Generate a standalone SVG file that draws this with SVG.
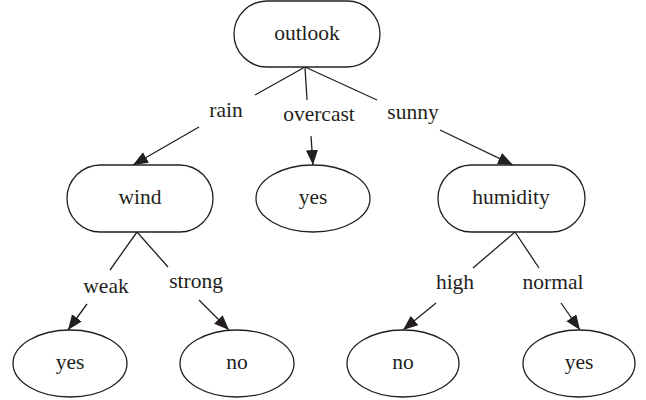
<svg xmlns="http://www.w3.org/2000/svg" width="646" height="400" viewBox="0 0 646 400">
<style>
.n{fill:#fff;stroke:#231f20;stroke-width:1.3}
.t{font-family:"Liberation Serif",serif;font-size:21.5px;fill:#231f20;text-anchor:middle}
.e{stroke:#231f20;stroke-width:1.3;fill:none}
.a{marker-end:url(#ah)}
</style>
<defs>
<marker id="ah" markerUnits="userSpaceOnUse" markerWidth="17" markerHeight="13" refX="15" refY="6" orient="auto">
<path d="M0,0 L15,6 L0,12 z" fill="#231f20"/>
</marker>
</defs>
<rect width="646" height="400" fill="#fff"/>
<g id="connectors">
<line class="e" x1="305" y1="67" x2="255" y2="95"/>
<line class="e" x1="305" y1="67" x2="307" y2="100"/>
<line class="e" x1="305" y1="67" x2="377" y2="100"/>
<line class="e a" x1="199" y1="127" x2="133" y2="165"/>
<line class="e a" x1="311" y1="136" x2="313" y2="165"/>
<line class="e a" x1="440" y1="130" x2="513" y2="165"/>
<line class="e" x1="137" y1="232" x2="110" y2="270"/>
<line class="e" x1="137" y1="232" x2="168" y2="267"/>
<line class="e a" x1="87" y1="304" x2="68" y2="330"/>
<line class="e a" x1="199" y1="300" x2="229" y2="330"/>
<line class="e" x1="515" y1="232" x2="473" y2="268"/>
<line class="e" x1="515" y1="232" x2="539" y2="268"/>
<line class="e a" x1="436" y1="303" x2="403" y2="330"/>
<line class="e a" x1="561" y1="303" x2="580" y2="330"/>
</g>
<g id="edge-labels">
<text class="t" x="226" y="117">rain</text>
<text class="t" x="319" y="121">overcast</text>
<text class="t" x="413" y="119">sunny</text>
<text class="t" x="106" y="293">weak</text>
<text class="t" x="196" y="288">strong</text>
<text class="t" x="455" y="289">high</text>
<text class="t" x="553" y="289">normal</text>
</g>
<g id="outlook"><rect class="n" x="234" y="1" width="146" height="66" rx="33" ry="33"/><text class="t" x="307" y="40">outlook</text></g>
<g id="wind"><rect class="n" x="67" y="165" width="146" height="67" rx="33.5" ry="33.5"/><text class="t" x="140" y="204">wind</text></g>
<g id="yes-overcast"><ellipse class="n" cx="313" cy="198.5" rx="57" ry="33.5"/><text class="t" x="313" y="204">yes</text></g>
<g id="humidity"><rect class="n" x="438" y="165" width="147" height="67" rx="33.5" ry="33.5"/><text class="t" x="511" y="204">humidity</text></g>
<g id="yes-weak"><ellipse class="n" cx="70" cy="363.5" rx="57" ry="33.5"/><text class="t" x="70" y="369">yes</text></g>
<g id="no-strong"><ellipse class="n" cx="237" cy="363.5" rx="57" ry="33.5"/><text class="t" x="237" y="369">no</text></g>
<g id="no-high"><ellipse class="n" cx="403" cy="363.5" rx="56" ry="33.5"/><text class="t" x="403" y="369">no</text></g>
<g id="yes-normal"><ellipse class="n" cx="579" cy="363.5" rx="56" ry="33.5"/><text class="t" x="579" y="369">yes</text></g>
</svg>
